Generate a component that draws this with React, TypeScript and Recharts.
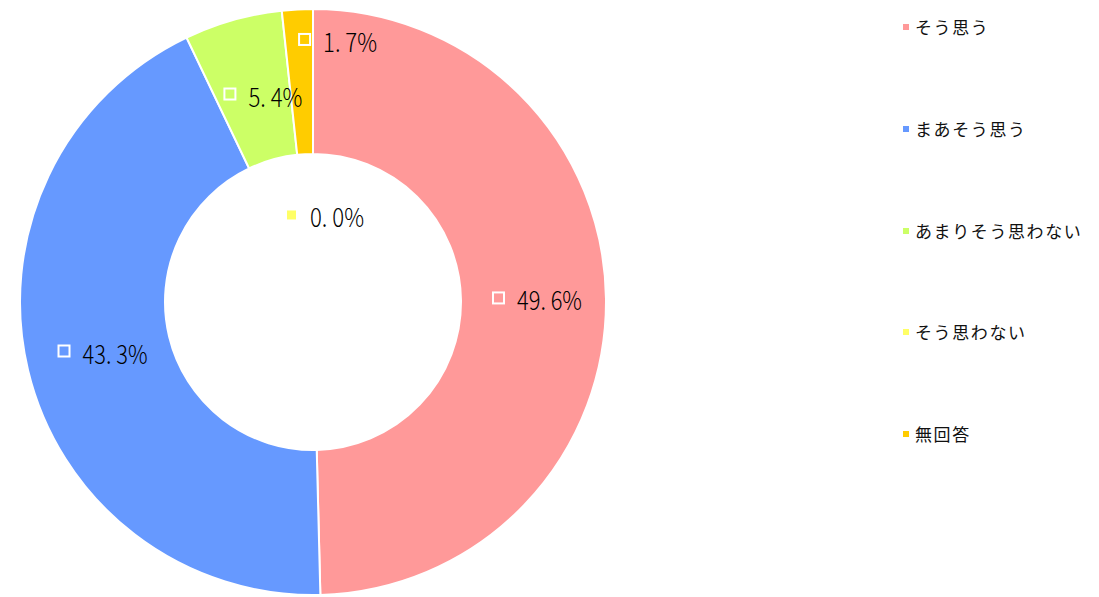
import React from "react";
import { PieChart, Pie, Cell, Legend } from "recharts";

const categories = ["そう思う", "まあそう思う", "あまりそう思わない", "そう思わない", "無回答"];
const values = [49.6, 43.3, 5.4, 0.0, 1.7];
const colors = ["#FF9999", "#6699FF", "#CCFF66", "#FFFF66", "#FFCC00"];
// data-label placement (radius px, angle deg from centre), as positioned in the original
const labelPlacement: [number, number][] = [
  [224, 0.4],
  [216.7, 193.75],
  [211.5, 103.7],
  [85.3, 82.25],
  [261.2, 84.6],
];

const data = categories.map((name, i) => ({ name, value: values[i] }));

const CX = 313;
const CY = 302;
const RAD = Math.PI / 180;

const renderLabel = (props: any) => {
  const { index, value } = props;
  const [r, a] = labelPlacement[index];
  const px = CX + r * Math.cos(a * RAD);
  const py = CY - r * Math.sin(a * RAD);
  const label = value.toFixed(1).replace(".", ". ") + "%";
  const textW = 11 * label.length - 1;
  const groupW = 25 + textW;
  const gx = px - groupW / 2;
  const tx = gx + 25;
  return (
    <g key={`lbl-${index}`}>
      <rect x={gx + 1} y={py - 8} width={11} height={11} fill={colors[index]} stroke="#ffffff" strokeWidth={2} />
      <text
        x={tx}
        y={py + 10}
        fontSize={26}
        fontWeight={300}
        fontFamily="'Noto Sans CJK JP', 'DejaVu Sans', sans-serif"
        fill="#000000"
        textAnchor="start"
        textLength={textW}
        lengthAdjust="spacingAndGlyphs"
        style={{ whiteSpace: "pre" }}
      >
        {label}
      </text>
    </g>
  );
};

const renderLegend = () => {
  return (
    <div style={{ position: "relative", width: 199, height: 597 }}>
      {categories.map((name, i) => (
        <div
          key={i}
          style={{
            position: "absolute",
            left: 0,
            top: 27 + i * 101.75 - 12,
            height: 24,
            lineHeight: "24px",
            display: "flex",
            alignItems: "center",
            fontFamily: "'Noto Sans CJK JP', sans-serif",
            fontSize: 17,
            letterSpacing: "1.6px",
            color: "#111",
            whiteSpace: "nowrap",
          }}
        >
          <span style={{ display: "inline-block", width: 6, height: 6, background: colors[i], marginRight: 6 }} />
          <span>{name}</span>
        </div>
      ))}
    </div>
  );
};

export default function App() {
  return (
    <div style={{ position: "absolute", left: 0, top: 0, width: 1099, height: 597, background: "#fff" }}>
      <PieChart width={1099} height={597} margin={{ top: 0, right: 0, bottom: 0, left: 0 }}>
        <Pie
          data={data}
          dataKey="value"
          nameKey="name"
          cx={CX}
          cy={CY}
          innerRadius={148}
          outerRadius={293}
          startAngle={90}
          endAngle={-270}
          stroke="#ffffff"
          strokeWidth={2}
          label={renderLabel}
          labelLine={false}
          isAnimationActive={false}
        >
          {data.map((_, i) => (
            <Cell key={i} fill={colors[i]} />
          ))}
        </Pie>
        <Legend
          layout="vertical"
          align="right"
          verticalAlign="top"
          content={renderLegend}
          wrapperStyle={{ position: "absolute", left: 903, top: 0, width: 199, height: 597 }}
        />
      </PieChart>
    </div>
  );
}
